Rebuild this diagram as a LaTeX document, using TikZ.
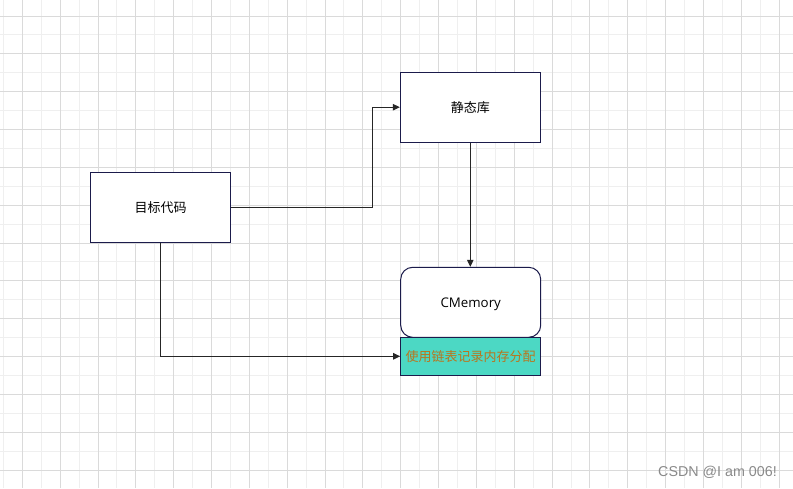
\documentclass[tikz,border=0pt]{standalone}
\usepackage{fontspec}
\setmainfont{Liberation Sans}
\newfontfamily\cjk{Noto Sans CJK SC}
\newfontfamily\latinui{Open Sans}
\usetikzlibrary{arrows.meta}
\definecolor{gridmajor}{HTML}{DADADA}
\definecolor{gridminor}{HTML}{EFEFEF}
\definecolor{boxline}{HTML}{1B1B4B}
\definecolor{tealfill}{HTML}{4CD8C4}
\definecolor{labelorange}{HTML}{B8761E}
\definecolor{wmgray}{HTML}{8A8A8A}
\begin{document}
\begin{tikzpicture}[x=1pt,y=-1pt,
  box/.style={draw=boxline, line width=1pt, fill=white, minimum width=140pt, minimum height=70pt, inner sep=0pt, font=\cjk\fontsize{13}{15}\selectfont},
  conn/.style={line width=1pt, draw=black!85, -{Triangle[length=7pt,width=6.5pt]}},
  gridline/.style={line width=1pt}]
\useasboundingbox (0,0) rectangle (793,488);
\fill[white] (0,0) rectangle (793,488);
% minor grid
\foreach \k in {0,2,...,40} { \draw[gridline,gridminor] ({3.4+18.92*\k},0) -- ({3.4+18.92*\k},488); }
\foreach \k in {0,2,...,26} { \draw[gridline,gridminor] (0,{-2.9+18.92*\k}) -- (793,{-2.9+18.92*\k}); }
% major grid
\foreach \k in {1,3,...,41} { \draw[gridline,gridmajor] ({3.4+18.92*\k},0) -- ({3.4+18.92*\k},488); }
\foreach \k in {1,3,...,25} { \draw[gridline,gridmajor] (0,{-2.9+18.92*\k}) -- (793,{-2.9+18.92*\k}); }
% nodes
\node[box] (obj) at (160.5,207.2) {目标代码};
\node[box] (lib) at (470.3,107.2) {静态库};
\node[box, rounded corners=12pt, text depth=0pt, font=\latinui\fontsize{13.3}{15}\selectfont] (cm) at (470.7,302.3) {CMemory};
\node[box, minimum height=38pt, fill=tealfill, text=labelorange] (mem) at (470.7,356.3) {使用链表记录内存分配};
% connectors
\coordinate (bend1) at (372.3,207.2);
\draw[conn] (obj.east) -- (bend1) |- (lib.west);
\draw[conn] (lib.south) -- (lib.south |- cm.north);
\draw[conn] (obj.south) |- (mem.west);
% watermark
\node[font=\fontsize{14.3}{16}\selectfont, text=wmgray, anchor=east, inner sep=0pt] (wm) at (777,472) {CSDN @I am 006!};
\end{tikzpicture}
\end{document}
